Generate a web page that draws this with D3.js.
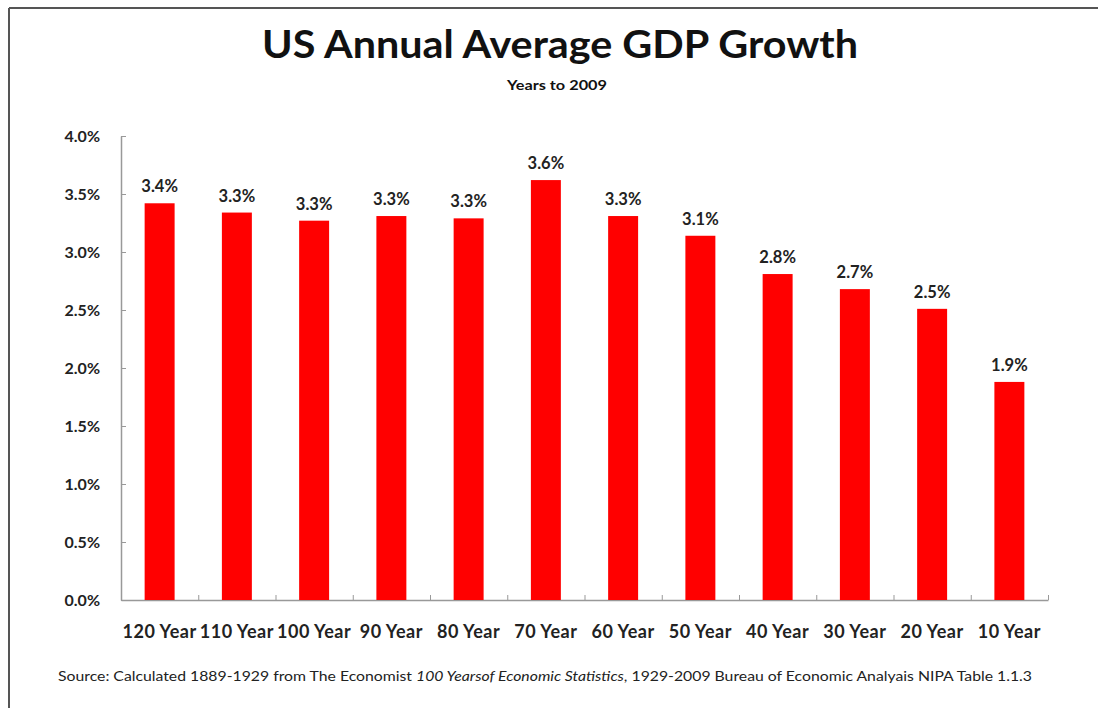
<!DOCTYPE html>
<html>
<head>
<meta charset="utf-8">
<script src="https://cdn.jsdelivr.net/npm/d3@7"></script>
<style>
  body { margin: 0; background: #fff; }
  text { font-family: Lato, "Open Sans", sans-serif; }
</style>
</head>
<body>
<div id="chart-div"></div>
<script>
// data
const periods = ['120 Year', '110 Year', '100 Year', '90 Year', '80 Year', '70 Year',
                 '60 Year', '50 Year', '40 Year', '30 Year', '20 Year', '10 Year'];
const growth = [0.0342, 0.0334, 0.0327, 0.0331, 0.0329, 0.0362,
                0.0331, 0.0314, 0.0281, 0.0268, 0.0251, 0.0188];
const yTicks = [0, 0.005, 0.01, 0.015, 0.02, 0.025, 0.03, 0.035, 0.04];

const chart = function() {

    const width = 1098
    const height = 708

    const svg = d3.select('#chart-div').append('svg')
        .attr('width', width)
        .attr('height', height);

    // frame (top + left edge only, as in the screenshot)
    svg.append('line').attr('x1', 9).attr('x2', width).attr('y1', 8).attr('y2', 8)
        .attr('stroke', '#555').attr('stroke-width', 2);
    svg.append('line').attr('x1', 9).attr('x2', 9).attr('y1', 8).attr('y2', height)
        .attr('stroke', '#555').attr('stroke-width', 2);

    const plotLeft = 121, plotRight = 1048, plotTop = 136, plotBottom = 600;
    const barPad = 0.612;

    const xScale = d3.scaleBand()
        .domain(periods)
        .range([plotLeft, plotRight])
        .paddingInner(barPad)
        .paddingOuter(barPad / 2);

    const yScale = d3.scaleLinear()
        .domain([0, 0.04])
        .range([plotBottom, plotTop]);

    // titles (the screenshot is stretched sideways, so widths are forced)
    svg.append('text')
        .attr('x', 560).attr('y', 58)
        .attr('text-anchor', 'middle')
        .attr('font-size', 39).attr('font-weight', 'bold')
        .attr('fill', '#111')
        .attr('textLength', 596).attr('lengthAdjust', 'spacingAndGlyphs')
        .text('US Annual Average GDP Growth');

    svg.append('text')
        .attr('x', 557).attr('y', 90)
        .attr('text-anchor', 'middle')
        .attr('font-size', 14).attr('font-weight', 'bold')
        .attr('fill', '#111')
        .attr('textLength', 100).attr('lengthAdjust', 'spacingAndGlyphs')
        .text('Years to 2009');

    // y axis
    const yAxis = d3.axisLeft(yScale)
        .tickValues(yTicks)
        .tickFormat(d3.format('.1%'))
        .tickSize(-5)
        .tickSizeOuter(0)
        .tickPadding(21);

    const yAxisG = svg.append('g')
        .attr('transform', `translate(${plotLeft},0)`)
        .call(yAxis);
    yAxisG.select('.domain').attr('stroke', '#999').attr('stroke-width', 1.5);
    yAxisG.selectAll('.tick line').attr('stroke', '#999');
    yAxisG.selectAll('text')
        .attr('font-size', 16).attr('font-weight', 'bold')
        .attr('fill', '#222')
        .style('font-family', 'Lato, sans-serif');

    // x axis: line with tick marks at the category boundaries
    const edgeScale = d3.scaleLinear().domain([0, periods.length]).range([plotLeft, plotRight]);
    const xLineG = svg.append('g')
        .attr('transform', `translate(0,${plotBottom})`)
        .call(d3.axisBottom(edgeScale)
            .tickValues(d3.range(periods.length + 1))
            .tickSize(-5)
            .tickSizeOuter(0)
            .tickFormat(''));
    xLineG.select('.domain').attr('stroke', '#999').attr('stroke-width', 1.5);
    xLineG.selectAll('.tick line').attr('stroke', '#999');

    // category labels
    const xAxisG = svg.append('g')
        .attr('transform', `translate(0,${plotBottom})`)
        .call(d3.axisBottom(xScale).tickSize(0).tickPadding(25));
    xAxisG.select('.domain').remove();
    xAxisG.selectAll('text')
        .attr('font-size', 18).attr('font-weight', 'bold')
        .attr('letter-spacing', 0.5)
        .attr('fill', '#222')
        .style('font-family', 'Lato, sans-serif');

    // bars
    svg.selectAll('rect.bar').data(growth)
      .enter().append('rect')
        .attr('class', 'bar')
        .attr('x', (d, i) => xScale(periods[i]))
        .attr('y', d => yScale(d))
        .attr('width', xScale.bandwidth())
        .attr('height', d => yScale(0) - yScale(d))
        .attr('fill', '#ff0000');

    // value labels
    svg.selectAll('text.val').data(growth)
      .enter().append('text')
        .attr('class', 'val')
        .attr('x', (d, i) => xScale(periods[i]) + xScale.bandwidth() / 2)
        .attr('y', d => yScale(d) - 11)
        .attr('text-anchor', 'middle')
        .attr('font-size', 16.5).attr('font-weight', 'bold')
        .attr('fill', '#222')
        .text(d => d3.format('.1%')(d));

    // source note
    const note = svg.append('text')
        .attr('x', 58).attr('y', 681)
        .attr('font-size', 13)
        .attr('fill', '#222')
        .attr('textLength', 974).attr('lengthAdjust', 'spacingAndGlyphs');
    note.append('tspan').text('Source: Calculated  1889-1929 from The Economist ');
    note.append('tspan').attr('font-style', 'italic').text('100 Yearsof Economic Statistics');
    note.append('tspan').text(', 1929-2009 Bureau of Economic Analyais NIPA Table 1.1.3');
}

chart();
</script>
</body>
</html>
